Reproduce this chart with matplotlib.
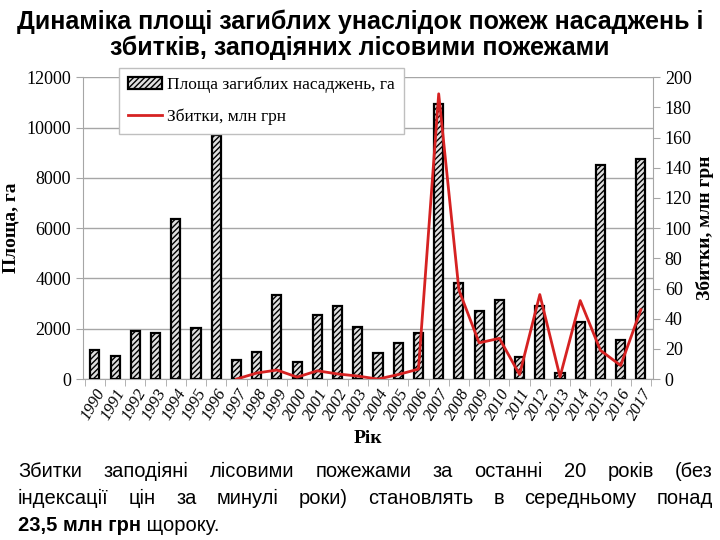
import matplotlib
matplotlib.use("Agg")
import matplotlib.pyplot as plt
import numpy as np

years = [str(y) for y in range(1990, 2018)]
area = [1150, 925, 1900, 1840, 6380, 2030, 9710, 750, 1085, 3330, 670, 2560, 2890,
        2070, 1040, 1430, 1840, 10930, 3820, 2710, 3130, 885, 2890, 240, 2270, 8520,
        1570, 8730]
loss_years = [str(y) for y in range(1997, 2018)]
loss = [0, 4, 6, 1.3, 5.5, 3.4, 2, 0, 3, 6.6, 189, 59, 24, 27, 3, 56, 1.5, 52, 19, 9, 46]

title = "Динаміка площі загиблих унаслідок пожеж насаджень і\nзбитків, заподіяних лісовими пожежами"
note_lines = ["Збитки заподіяні лісовими пожежами за останні 20 років (без",
              "індексації цін за минулі роки) становлять в середньому понад"]
note_bold = "23,5 млн грн"
note_tail = " щороку."

plt.rcParams['hatch.linewidth'] = 1.0
serif = "Liberation Serif"
sans = ["Liberation Sans", "DejaVu Sans"]

fig = plt.figure(figsize=(7.2, 5.4), dpi=100)
ax = fig.add_axes([0.115, 0.298, 0.792, 0.559])
x = np.arange(len(years))
ax.bar(x, area, width=0.45, color="#e0e0e0", edgecolor="black", linewidth=1.6,
       hatch="//////", label="Площа загиблих насаджень, га", zorder=3)
ax.set_xlim(-0.6, len(years) - 0.4)
ax.set_ylim(0, 12000)
ax.set_yticks(range(0, 12001, 2000))
ax.yaxis.grid(True, color="#a6a6a6", linewidth=1.0, zorder=0)
for s in ["top", "right"]:
    ax.spines[s].set_visible(False)
ax.spines["left"].set_color("#a6a6a6")
ax.spines["bottom"].set_color("#a6a6a6")
ax.set_xticks(x)
ax.set_xticklabels(years, rotation=60, fontfamily=serif, fontsize=12,
                   ha="right", rotation_mode="anchor", fontstyle="italic")
ax.set_xticks(np.arange(-0.5, len(years)), minor=True)
ax.tick_params(axis="x", which="major", length=0, pad=5)
ax.tick_params(axis="x", which="minor", length=5, color="#a6a6a6")
ax.tick_params(axis="y", length=5, color="#a6a6a6", labelsize=13)
for lab in ax.get_yticklabels():
    lab.set_fontfamily(serif)
ax.set_ylabel("Площа, га", fontfamily=serif, fontweight="bold", fontsize=14, labelpad=5)
ax.set_xlabel("Рік", fontfamily=serif, fontweight="bold", fontsize=14, labelpad=5)

ax2 = ax.twinx()
lx = [years.index(y) for y in loss_years]
ax2.plot(lx, loss, color="#d62222", linewidth=2, label="Збитки, млн грн", zorder=4)
ax2.set_ylim(0, 200)
ax2.set_yticks(range(0, 201, 20))
for s in ["top", "left", "bottom"]:
    ax2.spines[s].set_visible(False)
ax2.spines["right"].set_color("#a6a6a6")
ax2.tick_params(axis="y", length=5, color="#a6a6a6", labelsize=13)
for lab in ax2.get_yticklabels():
    lab.set_fontfamily(serif)
ax2.set_ylabel("Збитки, млн грн", fontfamily=serif, fontweight="bold", fontsize=14, labelpad=3)

h1, l1 = ax.get_legend_handles_labels()
h2, l2 = ax2.get_legend_handles_labels()
leg = ax2.legend(h1 + h2, l1 + l2, loc="upper left", bbox_to_anchor=(0.048, 1.06),
                 prop={"family": serif, "size": 12.5}, frameon=True, fancybox=False,
                 edgecolor="#bfbfbf", framealpha=1, handlelength=2.0, labelspacing=0.9,
                 borderpad=0.5, handletextpad=0.3)
leg.get_frame().set_linewidth(1.0)
leg.set_zorder(10)

fig.text(0.5, 0.982, title, ha="center", va="top", fontsize=18, fontweight="bold",
         family=sans, linespacing=1.05)

# justified note
renderer = fig.canvas.get_renderer()
left_px, right_px = 0.025, 0.99
ys = [0.117, 0.067]
fs = 14.5
for line, yy in zip(note_lines, ys):
    words = line.split(" ")
    texts = [fig.text(0, yy, w, fontsize=fs, family=sans, va="baseline") for w in words]
    widths = [t.get_window_extent(renderer).width / fig.bbox.width for t in texts]
    gap = (right_px - left_px - sum(widths)) / (len(words) - 1)
    pos = left_px
    for t, w in zip(texts, widths):
        t.set_x(pos)
        pos += w + gap
tb = fig.text(left_px, 0.017, note_bold, fontsize=fs, family=sans, fontweight="bold", va="baseline")
wb = tb.get_window_extent(renderer).width / fig.bbox.width
fig.text(left_px + wb, 0.017, note_tail, fontsize=fs, family=sans, va="baseline")

fig.savefig("out.png", dpi=100)
